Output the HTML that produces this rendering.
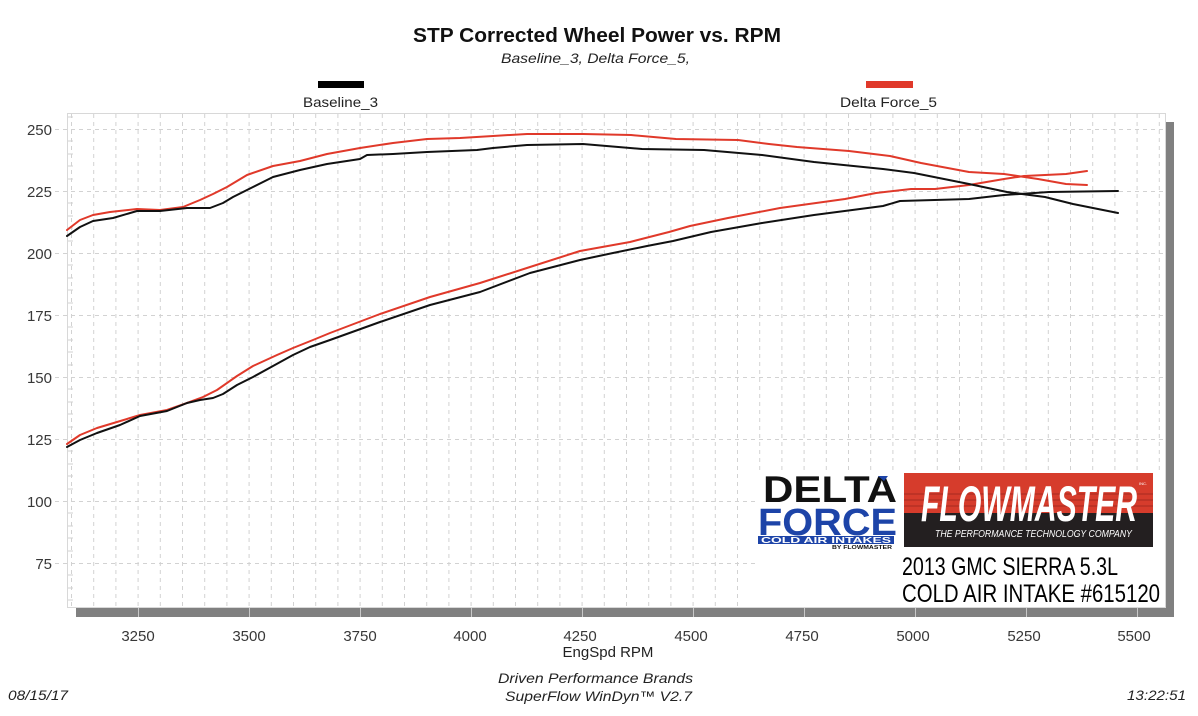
<!DOCTYPE html>
<html>
<head>
<meta charset="utf-8">
<style>
  html,body{margin:0;padding:0;background:#fff;}
  svg{display:block;}
  text{font-family:"Liberation Sans",Arial,sans-serif;}
</style>
</head>
<body>
<svg width="1198" height="716" viewBox="0 0 1198 716" xmlns="http://www.w3.org/2000/svg">
  <rect x="0" y="0" width="1198" height="716" fill="#fff"/>

  <!-- Title -->
  <text x="413" y="42" font-size="20" font-weight="bold" fill="#111" textLength="368" lengthAdjust="spacingAndGlyphs">STP Corrected Wheel Power vs. RPM</text>
  <text x="501" y="63" font-size="14" font-style="italic" fill="#222" textLength="189" lengthAdjust="spacingAndGlyphs">Baseline_3, Delta Force_5,</text>

  <!-- Legend -->
  <rect x="318" y="81" width="46" height="7" fill="#000"/>
  <text x="303" y="107" font-size="14" fill="#222" textLength="75" lengthAdjust="spacingAndGlyphs">Baseline_3</text>
  <rect x="866" y="81" width="47" height="7" fill="#e0392a"/>
  <text x="840" y="107" font-size="14" fill="#222" textLength="97" lengthAdjust="spacingAndGlyphs">Delta Force_5</text>

  <!-- Shadow -->
  <rect x="1166" y="122" width="8" height="495" fill="#808080"/>
  <rect x="76" y="608" width="1098" height="9" fill="#808080"/>
  <g stroke="#c8c8c8" stroke-width="1">
    <line x1="138.5" y1="608" x2="138.5" y2="617"/>
    <line x1="249.5" y1="608" x2="249.5" y2="617"/>
    <line x1="360.5" y1="608" x2="360.5" y2="617"/>
    <line x1="471.5" y1="608" x2="471.5" y2="617"/>
    <line x1="582.5" y1="608" x2="582.5" y2="617"/>
    <line x1="693.5" y1="608" x2="693.5" y2="617"/>
    <line x1="804.5" y1="608" x2="804.5" y2="617"/>
    <line x1="915.5" y1="608" x2="915.5" y2="617"/>
    <line x1="1026.5" y1="608" x2="1026.5" y2="617"/>
    <line x1="1137.5" y1="608" x2="1137.5" y2="617"/>
  </g>

  <!-- Frame -->
  <rect x="67.5" y="113.5" width="1098" height="494" fill="#fff" stroke="#d8d8d8" stroke-width="1"/>

  <!-- Vertical grid -->
  <g stroke="#d2d2d2" stroke-width="1" stroke-dasharray="4,4">
    <line x1="71.5" y1="114" x2="71.5" y2="607"/>
    <line x1="93.7" y1="114" x2="93.7" y2="607"/>
    <line x1="115.9" y1="114" x2="115.9" y2="607"/>
    <line x1="138.1" y1="114" x2="138.1" y2="607"/>
    <line x1="160.3" y1="114" x2="160.3" y2="607"/>
    <line x1="182.5" y1="114" x2="182.5" y2="607"/>
    <line x1="204.7" y1="114" x2="204.7" y2="607"/>
    <line x1="226.9" y1="114" x2="226.9" y2="607"/>
    <line x1="249.1" y1="114" x2="249.1" y2="607"/>
    <line x1="271.3" y1="114" x2="271.3" y2="607"/>
    <line x1="293.5" y1="114" x2="293.5" y2="607"/>
    <line x1="315.7" y1="114" x2="315.7" y2="607"/>
    <line x1="337.9" y1="114" x2="337.9" y2="607"/>
    <line x1="360.1" y1="114" x2="360.1" y2="607"/>
    <line x1="382.3" y1="114" x2="382.3" y2="607"/>
    <line x1="404.5" y1="114" x2="404.5" y2="607"/>
    <line x1="426.7" y1="114" x2="426.7" y2="607"/>
    <line x1="448.9" y1="114" x2="448.9" y2="607"/>
    <line x1="471.1" y1="114" x2="471.1" y2="607"/>
    <line x1="493.3" y1="114" x2="493.3" y2="607"/>
    <line x1="515.5" y1="114" x2="515.5" y2="607"/>
    <line x1="537.7" y1="114" x2="537.7" y2="607"/>
    <line x1="559.9" y1="114" x2="559.9" y2="607"/>
    <line x1="582.1" y1="114" x2="582.1" y2="607"/>
    <line x1="604.3" y1="114" x2="604.3" y2="607"/>
    <line x1="626.5" y1="114" x2="626.5" y2="607"/>
    <line x1="648.7" y1="114" x2="648.7" y2="607"/>
    <line x1="670.9" y1="114" x2="670.9" y2="607"/>
    <line x1="693.1" y1="114" x2="693.1" y2="607"/>
    <line x1="715.3" y1="114" x2="715.3" y2="607"/>
    <line x1="737.5" y1="114" x2="737.5" y2="607"/>
    <line x1="759.7" y1="114" x2="759.7" y2="607"/>
    <line x1="781.9" y1="114" x2="781.9" y2="607"/>
    <line x1="804.1" y1="114" x2="804.1" y2="607"/>
    <line x1="826.3" y1="114" x2="826.3" y2="607"/>
    <line x1="848.5" y1="114" x2="848.5" y2="607"/>
    <line x1="870.7" y1="114" x2="870.7" y2="607"/>
    <line x1="892.9" y1="114" x2="892.9" y2="607"/>
    <line x1="915.1" y1="114" x2="915.1" y2="607"/>
    <line x1="937.3" y1="114" x2="937.3" y2="607"/>
    <line x1="959.5" y1="114" x2="959.5" y2="607"/>
    <line x1="981.7" y1="114" x2="981.7" y2="607"/>
    <line x1="1003.9" y1="114" x2="1003.9" y2="607"/>
    <line x1="1026.1" y1="114" x2="1026.1" y2="607"/>
    <line x1="1048.3" y1="114" x2="1048.3" y2="607"/>
    <line x1="1070.5" y1="114" x2="1070.5" y2="607"/>
    <line x1="1092.7" y1="114" x2="1092.7" y2="607"/>
    <line x1="1114.9" y1="114" x2="1114.9" y2="607"/>
    <line x1="1137.1" y1="114" x2="1137.1" y2="607"/>
    <line x1="1159.3" y1="114" x2="1159.3" y2="607"/>
  </g>
  <!-- Horizontal grid -->
  <g stroke="#d2d2d2" stroke-width="1" stroke-dasharray="4,4">
    <line x1="55" y1="129.5" x2="1165" y2="129.5"/>
    <line x1="55" y1="191.5" x2="1165" y2="191.5"/>
    <line x1="55" y1="253.5" x2="1165" y2="253.5"/>
    <line x1="55" y1="315.5" x2="1165" y2="315.5"/>
    <line x1="55" y1="377.5" x2="1165" y2="377.5"/>
    <line x1="55" y1="439.5" x2="1165" y2="439.5"/>
    <line x1="55" y1="501.5" x2="1165" y2="501.5"/>
    <line x1="55" y1="563.5" x2="1165" y2="563.5"/>
  </g>
  <!-- minor left ticks -->
  <g stroke="#d2d2d2" stroke-width="1">
    <line x1="68" y1="117" x2="73" y2="117"/>
    <line x1="68" y1="141" x2="73" y2="141"/><line x1="68" y1="154" x2="73" y2="154"/><line x1="68" y1="166" x2="73" y2="166"/><line x1="68" y1="179" x2="73" y2="179"/>
    <line x1="68" y1="203" x2="73" y2="203"/><line x1="68" y1="216" x2="73" y2="216"/><line x1="68" y1="228" x2="73" y2="228"/><line x1="68" y1="241" x2="73" y2="241"/>
    <line x1="68" y1="265" x2="73" y2="265"/><line x1="68" y1="278" x2="73" y2="278"/><line x1="68" y1="290" x2="73" y2="290"/><line x1="68" y1="303" x2="73" y2="303"/>
    <line x1="68" y1="327" x2="73" y2="327"/><line x1="68" y1="340" x2="73" y2="340"/><line x1="68" y1="352" x2="73" y2="352"/><line x1="68" y1="365" x2="73" y2="365"/>
    <line x1="68" y1="389" x2="73" y2="389"/><line x1="68" y1="402" x2="73" y2="402"/><line x1="68" y1="414" x2="73" y2="414"/><line x1="68" y1="427" x2="73" y2="427"/>
    <line x1="68" y1="451" x2="73" y2="451"/><line x1="68" y1="464" x2="73" y2="464"/><line x1="68" y1="476" x2="73" y2="476"/><line x1="68" y1="489" x2="73" y2="489"/>
    <line x1="68" y1="513" x2="73" y2="513"/><line x1="68" y1="526" x2="73" y2="526"/><line x1="68" y1="538" x2="73" y2="538"/><line x1="68" y1="551" x2="73" y2="551"/>
    <line x1="68" y1="575" x2="73" y2="575"/><line x1="68" y1="588" x2="73" y2="588"/><line x1="68" y1="600" x2="73" y2="600"/>
  </g>

  <!-- Y labels -->
  <g font-size="15" fill="#383838" text-anchor="end">
    <text x="52" y="135">250</text>
    <text x="52" y="197">225</text>
    <text x="52" y="259">200</text>
    <text x="52" y="321">175</text>
    <text x="52" y="383">150</text>
    <text x="52" y="445">125</text>
    <text x="52" y="507">100</text>
    <text x="52" y="569">75</text>
  </g>

  <!-- X labels -->
  <g font-size="15" fill="#383838" text-anchor="middle">
    <text x="138" y="641">3250</text>
    <text x="249" y="641">3500</text>
    <text x="360" y="641">3750</text>
    <text x="470" y="641">4000</text>
    <text x="580" y="641">4250</text>
    <text x="691" y="641">4500</text>
    <text x="802" y="641">4750</text>
    <text x="913" y="641">5000</text>
    <text x="1024" y="641">5250</text>
    <text x="1134" y="641">5500</text>
  </g>
  <text x="608" y="657" font-size="15" fill="#222" text-anchor="middle">EngSpd  RPM</text>

  <!-- Footer -->
  <text x="498" y="683" font-size="14" font-style="italic" fill="#222" textLength="195" lengthAdjust="spacingAndGlyphs">Driven Performance Brands</text>
  <text x="505" y="701" font-size="14" font-style="italic" fill="#222" textLength="187" lengthAdjust="spacingAndGlyphs">SuperFlow WinDyn™  V2.7</text>
  <text x="8" y="700" font-size="14" font-style="italic" fill="#222" textLength="60" lengthAdjust="spacingAndGlyphs">08/15/17</text>
  <text x="1127" y="700" font-size="14" font-style="italic" fill="#222" textLength="59" lengthAdjust="spacingAndGlyphs">13:22:51</text>

  <!-- Curves -->
  <g fill="none" stroke-width="2" stroke-linejoin="round" stroke-linecap="round">
    <polyline stroke="#e0392a" points="67,230 80,220 93,215 110,212 137,209 160,210 183,207 200,200 213,194 227,187 247,175 273,166 300,161 327,154 360,148 393,143 427,139 460,138 493,136 527,134 583,134 631,135 676,139 738,140 769,144 797,147 849,151 890,156 921,163 969,172 1004,174 1038,179 1066,184 1087,185"/>
    <polyline stroke="#e0392a" points="67,444 80,435 97,428 117,422 140,415 167,410 187,403 203,397 217,390 237,376 253,366 277,355 293,348 313,340 330,333 380,314 430,297 480,283 530,267 580,251 630,242 669,232 690,226 728,218 780,208 845,199 876,193 911,189 935,189 969,185 1004,179 1024,176 1066,174 1087,171"/>
    <polyline stroke="#111" points="67,236 80,227 93,221 113,218 137,211 160,211 187,208 210,208 223,203 233,197 253,187 273,177 300,170 327,164 360,159 367,155 393,154 427,152 477,150 493,148 527,145 583,144 642,149 704,150 762,155 814,162 883,169 914,173 969,184 1007,192 1045,197 1073,204 1118,213"/>
    <polyline stroke="#111" points="67,447 80,440 97,433 120,425 140,416 167,411 187,403 200,400 213,398 223,394 237,385 253,377 273,366 293,355 310,347 330,340 380,322 430,305 480,292 530,273 580,260 613,253 647,246 673,241 711,232 762,223 814,215 883,206 900,201 969,199 1004,195 1049,192 1118,191"/>
  </g>

  <!-- Logo area -->
  <rect x="755" y="471" width="410" height="136" fill="#fff"/>

  <!-- Delta Force logo -->
  <text x="763" y="502" font-size="37" font-weight="bold" fill="#111" textLength="134" lengthAdjust="spacingAndGlyphs">DELTA</text>
  <polygon points="878,476 888,476 884,481" fill="#1d44a8"/>
  <text x="758" y="535" font-size="38" font-weight="bold" fill="#1d44a8" textLength="139" lengthAdjust="spacingAndGlyphs">FORCE</text>
  <rect x="758" y="536" width="136" height="8" fill="#1d44a8"/>
  <text x="761" y="543" font-size="8" font-weight="bold" fill="#fff" textLength="130" lengthAdjust="spacingAndGlyphs">COLD AIR INTAKES</text>
  <text x="832" y="549" font-size="5" font-weight="bold" fill="#111" textLength="60" lengthAdjust="spacingAndGlyphs">BY FLOWMASTER</text>

  <!-- Flowmaster logo -->
  <rect x="904" y="473" width="249" height="40" fill="#d63c2c"/>
  <rect x="904" y="513" width="249" height="34" fill="#231f20"/>
  <g stroke="#a52a1f" stroke-width="1">
    <line x1="904" y1="494" x2="1153" y2="494"/>
    <line x1="904" y1="500" x2="1153" y2="500"/>
    <line x1="904" y1="506" x2="1153" y2="506"/>
  </g>
  <text x="921" y="521" font-size="50" font-weight="bold" font-style="italic" fill="#fff" textLength="216" lengthAdjust="spacingAndGlyphs">FLOWMASTER</text>
  <text x="1139" y="485" font-size="4" fill="#fff">INC.</text>
  <text x="935" y="537" font-size="10" font-style="italic" fill="#fff" textLength="197" lengthAdjust="spacingAndGlyphs">THE PERFORMANCE TECHNOLOGY COMPANY</text>

  <text x="902" y="575" font-size="25" fill="#000" textLength="216" lengthAdjust="spacingAndGlyphs">2013 GMC SIERRA 5.3L</text>
  <text x="902" y="602" font-size="25" fill="#000" textLength="258" lengthAdjust="spacingAndGlyphs">COLD AIR INTAKE #615120</text>
</svg>
</body>
</html>
